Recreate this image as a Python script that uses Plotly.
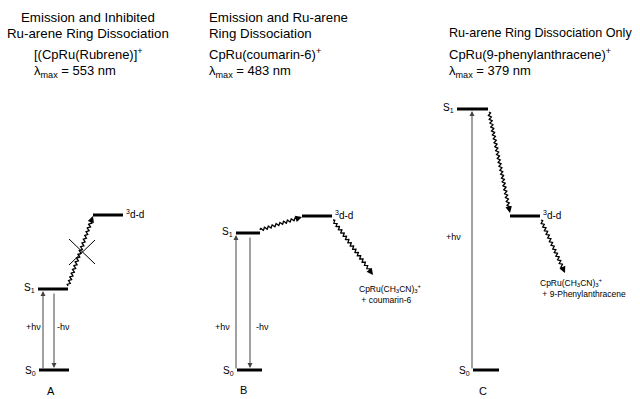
import numpy as np
import plotly.graph_objects as go

# ---------------- data (schematic energies, arbitrary units) ----------------
panels = ["A", "B", "C"]
s0_energy = [0, 0, 0]
s1_energy = [81, 137, 261]
dd_energy = [155, 154, 154]
titles = [["Emission and Inhibited", "Ru-arene Ring Dissociation"],
          ["Emission and Ru-arene", "Ring Dissociation"],
          ["Ru-arene Ring Dissociation Only"]]
complexes = ["[(CpRu(Rubrene)]<sup>+</sup>", "CpRu(coumarin-6)<sup>+</sup>",
             "CpRu(9-phenylanthracene)<sup>+</sup>"]
lambda_max = [553, 483, 379]
products = [None, "coumarin-6", "9-Phenylanthracene"]
emission = [True, True, False]
dissociation = [False, True, True]

# ---------------- layout constants (pixel-like positions) ----------------
S0_X = [(39, 69), (237, 262), (473, 499)]
S1_X = [(38, 68), (236, 260), (457, 488)]
DD_X = [(93, 123), (302, 332), (510, 540)]
ABS_X = [43, 236, 472]
EM_X = [54, 250, None]
HV_Y = [43, 43, 133]
ABS_LBL_X = [33, 222, 453]
EM_LBL_X = [63, 262, None]
PANEL_LBL = [(51, -21), (243, -20), (483, -21)]
TITLE_X = [88, 207, 447]
TITLE_ANCHOR = ["center", "left", "left"]
TITLE_SIZE = [13.3, 13.3, 12.6]
TEXT_X = [32, 207, 447]
PROD_END = [None, (373, 95), (565, 97)]
PROD_TXT = [None, (357, 76), (538, 82)]

FONT = "Liberation Sans, Arial, Helvetica, sans-serif"
INK = "#000000"

fig = go.Figure()
ann = []


def wavy(x0, y0, x1, y1, amp=1.4, period=4.0):
    dx, dy = x1 - x0, y1 - y0
    L = np.hypot(dx, dy)
    n = max(int(L * 4), 10)
    t = np.linspace(0, 1, n)
    nx, ny = -dy / L, dx / L
    w = amp * np.sin(2 * np.pi * L * t / period)
    return x0 + dx * t + nx * w, y0 + dy * t + ny * w


def wavy_arrow(x0, y0, x1, y1):
    dx, dy = x1 - x0, y1 - y0
    L = np.hypot(dx, dy)
    ex, ey = x1 - dx / L * 5, y1 - dy / L * 5
    xs, ys = wavy(x0, y0, ex, ey)
    fig.add_trace(go.Scatter(x=xs, y=ys, mode="lines",
                             line=dict(color=INK, width=1.3), hoverinfo="skip"))
    ann.append(dict(x=x1, y=y1, ax=x1 - dx / L * 7, ay=y1 - dy / L * 7,
                    xref="x", yref="y", axref="x", ayref="y", text="",
                    showarrow=True, arrowhead=2, arrowsize=1, arrowwidth=1.3,
                    arrowcolor=INK))


def level(xr, e):
    fig.add_trace(go.Scatter(x=list(xr), y=[e, e], mode="lines",
                             line=dict(color=INK, width=3), hoverinfo="skip"))


def text(x, y, s, size=11, anchor="left"):
    ann.append(dict(x=x, y=y, xref="x", yref="y", text=s, showarrow=False,
                    xanchor=anchor, yanchor="middle", align="left",
                    font=dict(family=FONT, size=size, color=INK)))


def varrow(x, y0, y1):
    ann.append(dict(x=x, y=y1, ax=x, ay=y0, xref="x", yref="y", axref="x",
                    ayref="y", text="", showarrow=True, arrowhead=2,
                    arrowsize=1, arrowwidth=1, arrowcolor="#444444"))


for i, p in enumerate(panels):
    e0, e1, ed = s0_energy[i], s1_energy[i], dd_energy[i]
    level(S0_X[i], e0)
    level(S1_X[i], e1)
    level(DD_X[i], ed)
    text(S1_X[i][0] - 1, e1 + 1, "S<sub>1</sub>", 10, "right")
    text(S0_X[i][0] - 1, e0 - 1, "S<sub>0</sub>", 10, "right")
    text(DD_X[i][1] + 1, ed + 1, "<sup>3</sup>d-d", 10, "left")
    # absorption
    varrow(ABS_X[i], e0, e1 - 2)
    text(ABS_LBL_X[i], HV_Y[i], "+hν", 9, "center")
    if emission[i]:
        varrow(EM_X[i], e1 - 3, e0 + 2)
        text(EM_LBL_X[i], HV_Y[i], "-hν", 9, "center")
    # S1 -> 3d-d
    if e1 < ed:
        wavy_arrow(S1_X[i][1], e1 + 3, DD_X[i][0], ed - 1)
    else:
        wavy_arrow(S1_X[i][1] + 1, e1 - 3, DD_X[i][0], ed + 3)
    # dissociation
    if dissociation[i]:
        wavy_arrow(DD_X[i][1] + 1, ed - 4, PROD_END[i][0], PROD_END[i][1])
        tx, ty = PROD_TXT[i]
        text(tx, ty, "CpRu(CH<sub>3</sub>CN)<sub>3</sub><sup>+</sup><br> + "
             + products[i], 8.5)
    else:
        # blocked pathway: cross
        cx = (S1_X[i][1] + DD_X[i][0]) / 2 + 0.5
        cy = (e1 + ed) / 2
        for sx, sy in [(1, 1), (1, -1)]:
            fig.add_trace(go.Scatter(x=[cx - 12 * sx, cx + 14 * sx],
                                     y=[cy + 13 * sy, cy - 12 * sy],
                                     mode="lines", line=dict(color=INK, width=1),
                                     hoverinfo="skip"))
    # titles
    ty = [353, 337] if len(titles[i]) == 2 else [337]
    for line, yy in zip(titles[i], ty):
        text(TITLE_X[i], yy, line, TITLE_SIZE[i], TITLE_ANCHOR[i])
    text(TEXT_X[i], 316, complexes[i], 13)
    text(TEXT_X[i], 299, "λ<sub>max</sub> = %d nm" % lambda_max[i], 13)
    text(PANEL_LBL[i][0], PANEL_LBL[i][1], p, 11, "center")

fig.update_layout(
    width=640, height=399, margin=dict(l=0, r=0, t=0, b=0),
    paper_bgcolor="white", plot_bgcolor="white", showlegend=False,
    xaxis=dict(range=[0, 640], visible=False, fixedrange=True),
    yaxis=dict(range=[-29, 370], visible=False, fixedrange=True),
    annotations=ann,
)
fig.write_html("out.html")
